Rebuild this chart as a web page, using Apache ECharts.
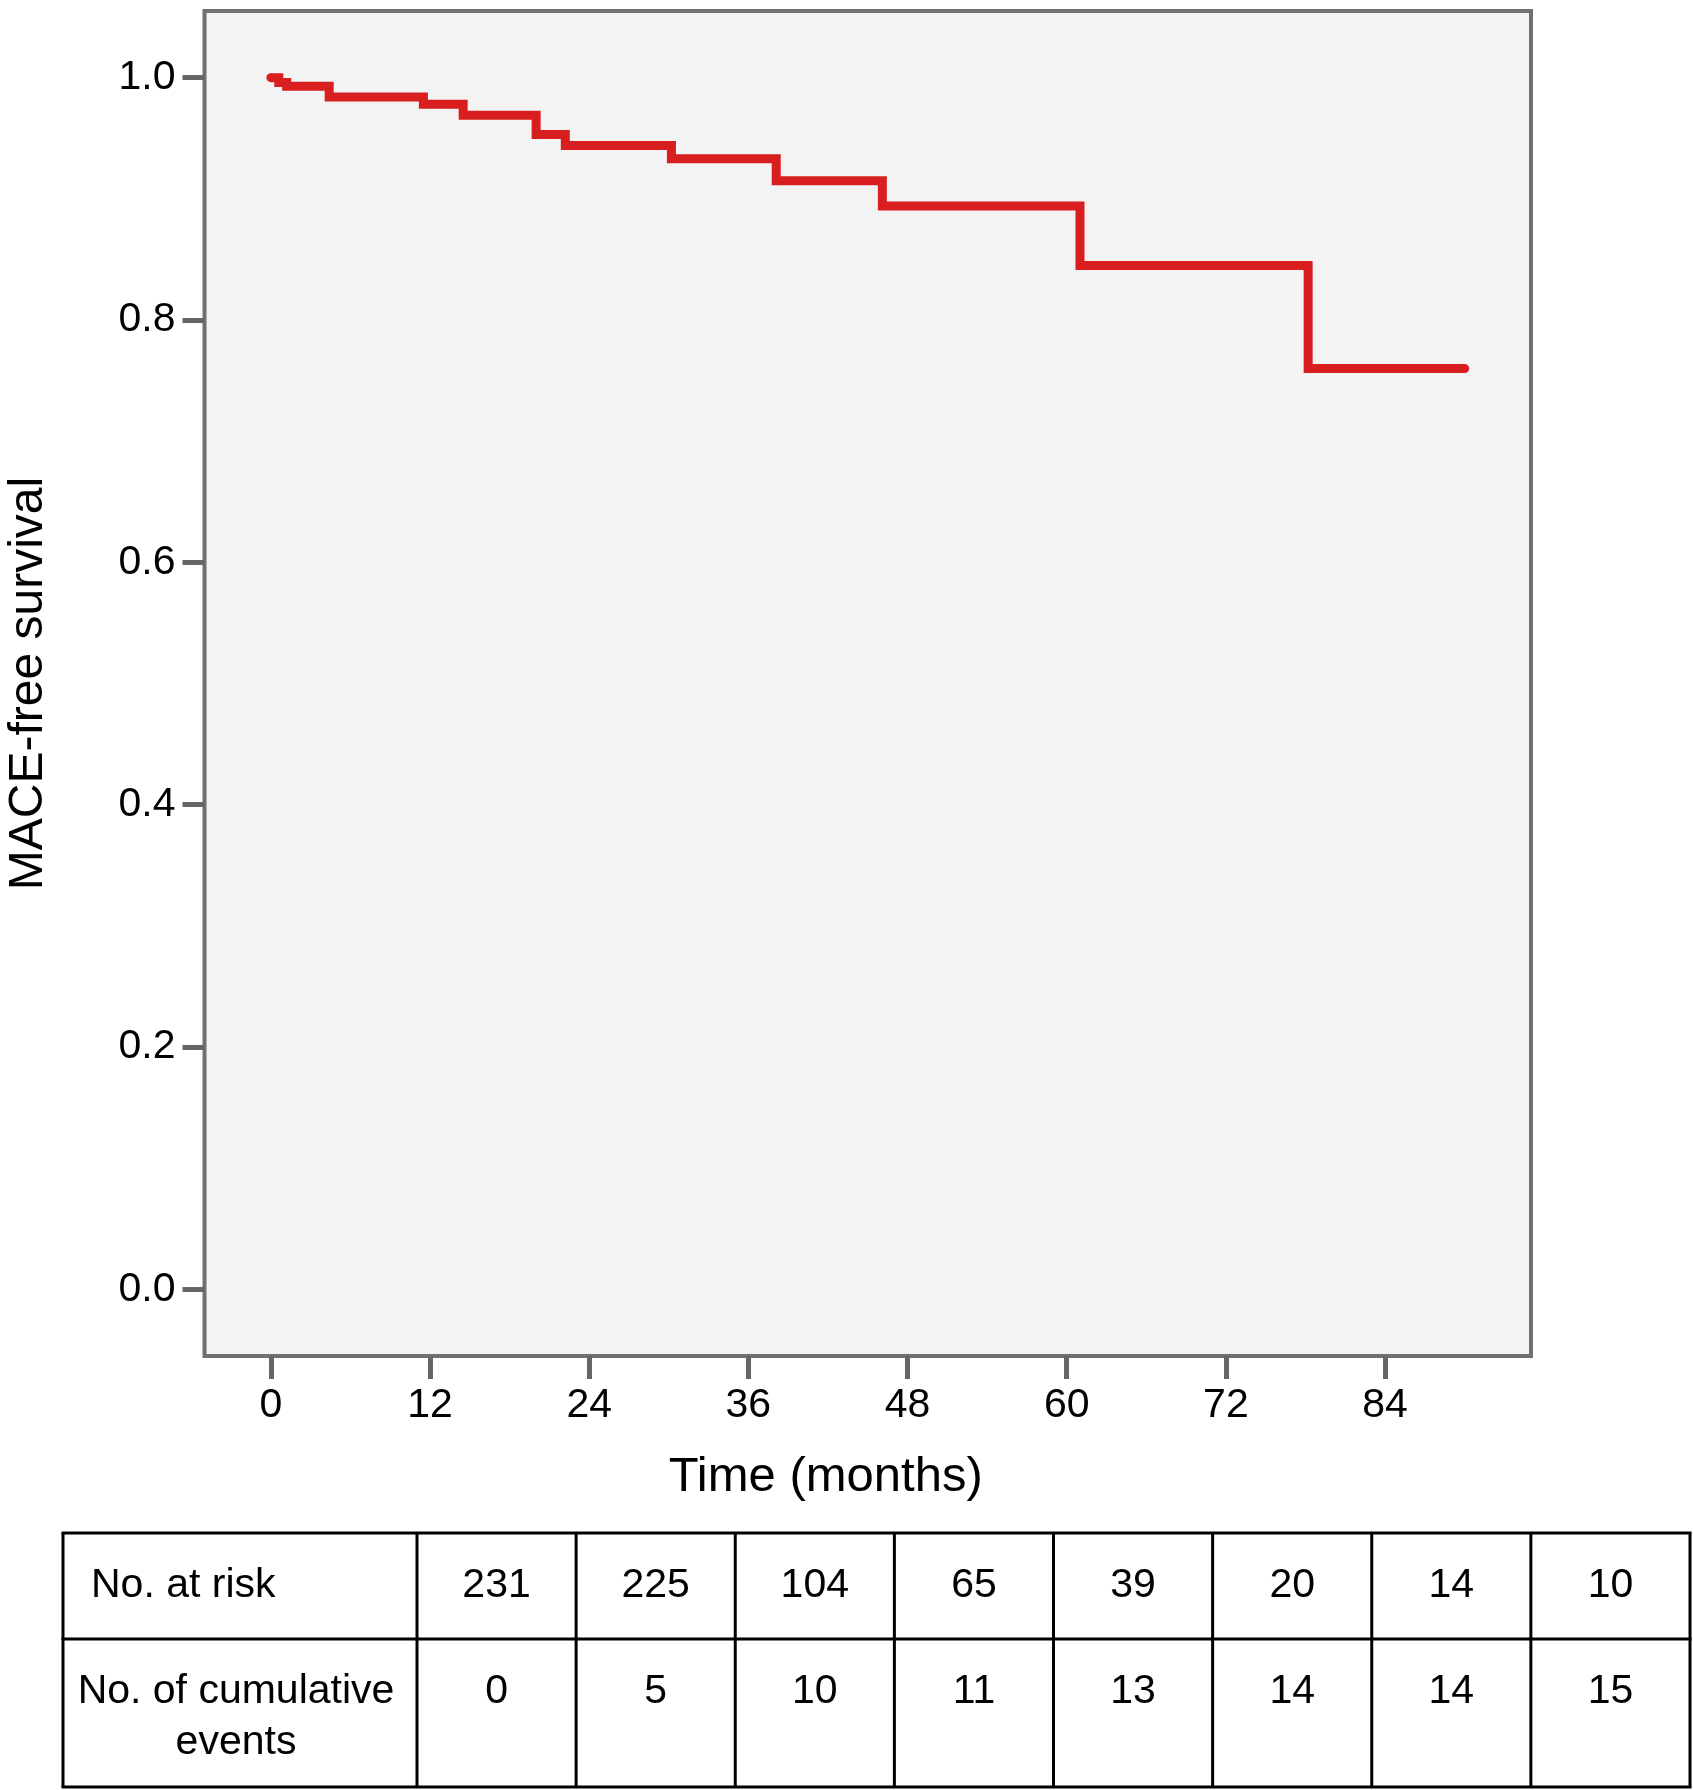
<!DOCTYPE html>
<html>
<head>
<meta charset="utf-8">
<script src="https://cdn.jsdelivr.net/npm/echarts@6/dist/echarts.min.js"></script>
<style>
html,body{margin:0;padding:0;background:#fff;}
#chart{width:1693px;height:1790px;}
</style>
</head>
<body>
<div id="chart"></div>
<script>
// ---- data ----
const eventTimes = [0, 0.6, 1.2, 4.4, 11.5, 14.5, 20.0, 22.2, 30.2, 38.1, 46.1, 61.0, 78.2, 90.0];
const survival   = [1.0, 0.996, 0.993, 0.984, 0.978, 0.969, 0.953, 0.944, 0.933, 0.915, 0.894, 0.845, 0.760, 0.760];
const xTicks = [0, 12, 24, 36, 48, 60, 72, 84];
const yTicks = [0, 0.2, 0.4, 0.6, 0.8, 1.0];
const rowLabels = ['No. at risk', 'No. of cumulative\nevents'];
const atRisk = [231, 225, 104, 65, 39, 20, 14, 10];
const cumEvents = [0, 5, 10, 11, 13, 14, 14, 15];

const FONT = "'Liberation Sans', Arial, Helvetica, sans-serif";
const chart = echarts.init(document.getElementById('chart'), null, {renderer: 'canvas'});

// ---- risk table built from the arrays ----
const tbl = {left: 63, labelRight: 417, right: 1690, rows: [1533, 1639, 1787]};
const colW = (tbl.right - tbl.labelRight) / atRisk.length;
const graphics = [];
const lw = 3;
function hline(y, x1, x2) { graphics.push({type:'line', shape:{x1:x1, y1:y, x2:x2, y2:y}, style:{stroke:'#000', lineWidth:lw}}); }
function vline(x, y1, y2) { graphics.push({type:'line', shape:{x1:x, y1:y1, x2:x, y2:y2}, style:{stroke:'#000', lineWidth:lw}}); }
tbl.rows.forEach(y => hline(y, tbl.left - 1.5, tbl.right + 1.5));
vline(tbl.left, tbl.rows[0], tbl.rows[2]);
vline(tbl.labelRight, tbl.rows[0], tbl.rows[2]);
for (let i = 1; i <= atRisk.length; i++) vline(tbl.labelRight + colW * i, tbl.rows[0], tbl.rows[2]);
const rowData = [atRisk, cumEvents];
rowData.forEach((vals, r) => {
  const yc = tbl.rows[r] + 53;
  if (r === 0) {
    graphics.push({type:'text', x: tbl.left + 28, y: yc, style:{text: rowLabels[r], font: '41px ' + FONT, fill:'#000', align:'left', verticalAlign:'middle'}});
  } else {
    graphics.push({type:'text', x: 236, y: yc - 26, style:{text: rowLabels[r], font: '41px ' + FONT, fill:'#000', align:'center', verticalAlign:'top', lineHeight: 51}});
  }
  vals.forEach((v, i) => {
    graphics.push({type:'text', x: tbl.labelRight + colW * (i + 0.5), y: yc, style:{text: String(v), font: '41px ' + FONT, fill:'#000', align:'center', verticalAlign:'middle'}});
  });
});

const option = {
  backgroundColor: '#fff',
  animation: false,
  textStyle: {fontFamily: FONT},
  grid: {
    left: 204.5, right: 162, top: 11, bottom: 434,
    show: true, backgroundColor: '#f3f3f3', borderColor: '#707070', borderWidth: 4,
    containLabel: false, outerBoundsMode: 'none'
  },
  xAxis: {
    type: 'value', min: -5, max: 95,
    axisLine: {show: false, onZero: false},
    splitLine: {show: false},
    axisTick: {show: true, customValues: xTicks, length: 23, lineStyle: {color: '#666', width: 5}},
    axisLabel: {customValues: xTicks, fontSize: 41, color: '#000', margin: 29, fontFamily: FONT},
    name: 'Time (months)', nameLocation: 'middle', nameGap: 97,
    nameTextStyle: {fontSize: 49, color: '#000', fontFamily: FONT, padding: [0, 84, 0, 0]}
  },
  yAxis: {
    type: 'value', min: -0.055, max: 1.055,
    axisLine: {show: false, onZero: false},
    splitLine: {show: false},
    axisTick: {show: true, customValues: yTicks, length: 22, lineStyle: {color: '#666', width: 5}},
    axisLabel: {customValues: yTicks, fontSize: 41, color: '#000', margin: 29, fontFamily: FONT,
      formatter: v => v.toFixed(1)},
    name: 'MACE-free survival', nameLocation: 'middle', nameGap: 152,
    nameTextStyle: {fontSize: 48, color: '#000', fontFamily: FONT}
  },
  series: [{
    type: 'line', step: 'end', showSymbol: false, symbol: 'none',
    data: eventTimes.map((t, i) => [t, survival[i]]),
    lineStyle: {color: '#d81e1e', width: 9, cap: 'round', join: 'miter'}
  }],
  graphic: graphics
};
chart.setOption(option);
</script>
</body>
</html>
